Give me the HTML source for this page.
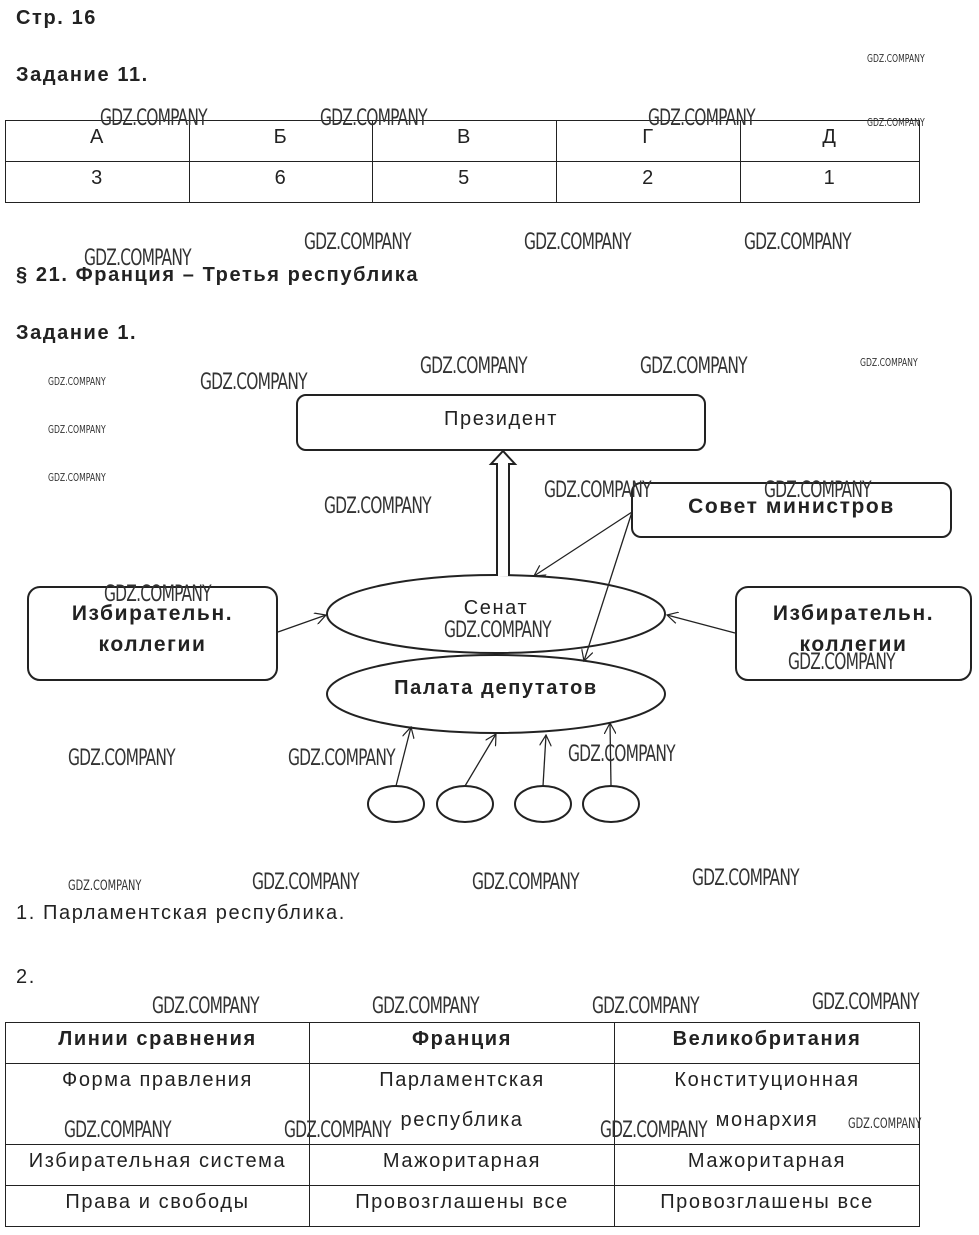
<!DOCTYPE html><html><head><meta charset="utf-8"><style>
body{margin:0;width:979px;height:1235px;background:#fff;position:relative;font-family:"Liberation Sans","Noto Sans CJK SC",sans-serif;color:#222;overflow:hidden;letter-spacing:1.6px}
.a{position:absolute;white-space:nowrap}
.b{font-weight:bold;font-size:20px}
table{position:absolute;border-collapse:collapse;left:5px;width:915px}
td{border:1px solid #222;text-align:center;font-size:20px;padding:0;vertical-align:top;height:40px}
td div{position:relative;top:-4px;line-height:40px}
.w{position:absolute;font-family:"DejaVu Sans Condensed","Liberation Sans Narrow",sans-serif;color:#333;font-size:22px;transform:scaleX(0.78);transform-origin:left top;white-space:nowrap;letter-spacing:-1px}
.s{font-size:11px;letter-spacing:0}
</style></head><body>
<div class="a b" style="left:16px;top:7px">Стр. 16</div>
<div class="a b" style="left:16px;top:64px">Задание 11.</div>
<table style="top:120px"><tr><td style="width:183px"><div>А</div></td><td style="width:182px"><div>Б</div></td><td style="width:183px"><div>В</div></td><td style="width:183px"><div>Г</div></td><td><div>Д</div></td></tr>
<tr><td><div>3</div></td><td><div>6</div></td><td><div>5</div></td><td><div>2</div></td><td><div>1</div></td></tr></table>
<div class="a b" style="left:16px;top:264px">§ 21. Франция – Третья республика</div>
<div class="a b" style="left:16px;top:322px">Задание 1.</div>
<svg class="a" style="left:0;top:0" width="979" height="1235">
<defs><marker id="m" markerWidth="12" markerHeight="12" refX="11" refY="6" orient="auto" markerUnits="userSpaceOnUse"><path d="M0,0 L11,6 L0,12" fill="none" stroke="#222" stroke-width="1.2"/></marker></defs>
<g fill="none" stroke="#222" stroke-width="2">
<rect x="297" y="395" width="408" height="55" rx="9"/>
<rect x="632" y="483" width="319" height="54" rx="9"/>
<rect x="28" y="587" width="249" height="93" rx="12"/>
<rect x="736" y="587" width="235" height="93" rx="12"/>
<ellipse cx="496" cy="614" rx="169" ry="39"/>
<ellipse cx="496" cy="694" rx="169" ry="39"/>
<ellipse cx="396" cy="804" rx="28" ry="18"/><ellipse cx="465" cy="804" rx="28" ry="18"/>
<ellipse cx="543" cy="804" rx="28" ry="18"/><ellipse cx="611" cy="804" rx="28" ry="18"/>
<path d="M497,576 V464 H491 L503,451 L515,464 H509 V576" fill="#fff"/>
</g>
<g stroke="#222" stroke-width="1.3" marker-end="url(#m)">
<line x1="632" y1="512" x2="534" y2="576"/>
<line x1="632" y1="512" x2="584" y2="661"/>
<line x1="278" y1="632" x2="326" y2="615"/>
<line x1="735" y1="633" x2="667" y2="615"/>
<line x1="396" y1="786" x2="411" y2="727"/>
<line x1="465" y1="786" x2="496" y2="734"/>
<line x1="543" y1="786" x2="546" y2="735"/>
<line x1="611" y1="786" x2="610" y2="723"/>
</g></svg>
<div class="a" style="left:297px;width:408px;top:408px;text-align:center;font-size:20px">Президент</div>
<div class="a b" style="left:632px;width:319px;top:495px;text-align:center;font-size:21px">Совет министров</div>
<div class="a b" style="left:28px;width:249px;top:598px;text-align:center;line-height:31px;font-size:21px">Избирательн.<br>коллегии</div>
<div class="a b" style="left:736px;width:235px;top:598px;text-align:center;line-height:31px;font-size:21px">Избирательн.<br>коллегии</div>
<div class="a" style="left:327px;width:338px;top:597px;text-align:center;font-size:20px">Сенат</div>
<div class="a b" style="left:327px;width:338px;top:677px;text-align:center">Палата депутатов</div>
<div class="a" style="left:16px;top:902px;font-size:20px">1. Парламентская республика.</div>
<div class="a" style="left:16px;top:966px;font-size:20px">2.</div>
<table style="top:1022px"><tr><td style="width:303px;font-weight:bold"><div>Линии сравнения</div></td><td style="width:304px;font-weight:bold"><div>Франция</div></td><td style="font-weight:bold"><div>Великобритания</div></td></tr>
<tr><td style="height:80px"><div>Форма правления</div></td><td><div>Парламентская<br>республика</div></td><td><div>Конституционная<br>монархия</div></td></tr>
<tr><td><div>Избирательная система</div></td><td><div>Мажоритарная</div></td><td><div>Мажоритарная</div></td></tr>
<tr><td><div>Права и свободы</div></td><td><div>Провозглашены все</div></td><td><div>Провозглашены все</div></td></tr></table>
<div class="w" style="left:100px;top:106px">GDZ.COMPANY</div><div class="w" style="left:320px;top:106px">GDZ.COMPANY</div><div class="w" style="left:648px;top:106px">GDZ.COMPANY</div>
<div class="w s" style="left:867px;top:52px">GDZ.COMPANY</div><div class="w s" style="left:867px;top:116px">GDZ.COMPANY</div>
<div class="w" style="left:84px;top:246px">GDZ.COMPANY</div><div class="w" style="left:304px;top:230px">GDZ.COMPANY</div><div class="w" style="left:524px;top:230px">GDZ.COMPANY</div><div class="w" style="left:744px;top:230px">GDZ.COMPANY</div>
<div class="w" style="left:200px;top:370px">GDZ.COMPANY</div><div class="w" style="left:420px;top:354px">GDZ.COMPANY</div><div class="w" style="left:640px;top:354px">GDZ.COMPANY</div>
<div class="w s" style="left:860px;top:356px">GDZ.COMPANY</div><div class="w s" style="left:48px;top:375px">GDZ.COMPANY</div><div class="w s" style="left:48px;top:423px">GDZ.COMPANY</div><div class="w s" style="left:48px;top:471px">GDZ.COMPANY</div>
<div class="w" style="left:324px;top:494px">GDZ.COMPANY</div><div class="w" style="left:544px;top:478px">GDZ.COMPANY</div><div class="w" style="left:764px;top:478px">GDZ.COMPANY</div>
<div class="w" style="left:104px;top:582px">GDZ.COMPANY</div><div class="w" style="left:444px;top:618px">GDZ.COMPANY</div><div class="w" style="left:788px;top:650px">GDZ.COMPANY</div>
<div class="w" style="left:68px;top:746px">GDZ.COMPANY</div><div class="w" style="left:288px;top:746px">GDZ.COMPANY</div><div class="w" style="left:568px;top:742px">GDZ.COMPANY</div>
<div class="w s" style="left:68px;top:878px;font-size:14px">GDZ.COMPANY</div><div class="w" style="left:252px;top:870px">GDZ.COMPANY</div><div class="w" style="left:472px;top:870px">GDZ.COMPANY</div><div class="w" style="left:692px;top:866px">GDZ.COMPANY</div>
<div class="w" style="left:152px;top:994px">GDZ.COMPANY</div><div class="w" style="left:372px;top:994px">GDZ.COMPANY</div><div class="w" style="left:592px;top:994px">GDZ.COMPANY</div><div class="w" style="left:812px;top:990px">GDZ.COMPANY</div>
<div class="w" style="left:64px;top:1118px">GDZ.COMPANY</div><div class="w" style="left:284px;top:1118px">GDZ.COMPANY</div><div class="w" style="left:600px;top:1118px">GDZ.COMPANY</div><div class="w s" style="left:848px;top:1116px;font-size:14px">GDZ.COMPANY</div>
</body></html>
